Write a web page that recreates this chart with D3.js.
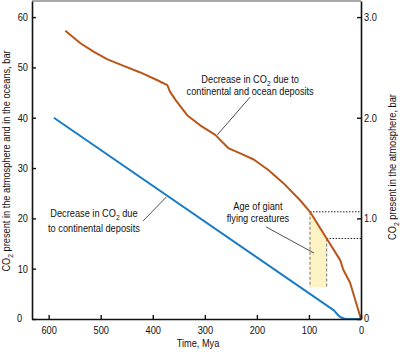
<!DOCTYPE html>
<html><head><meta charset="utf-8">
<script src="https://cdn.jsdelivr.net/npm/d3@7"></script>
<style>
html,body{margin:0;padding:0;background:#fff;}
svg text{font-family:"Liberation Sans",Arial,sans-serif;fill:#111;}
</style></head>
<body>
<svg id="c" width="400" height="352"></svg>
<script>
// ---- data ----
const xTicks = [600, 500, 400, 300, 200, 100, 0];
const leftTicks = [0, 10, 20, 30, 40, 50, 60];
const rightTicks = [0, 1, 2, 3];

const blueMya = [590, 52, 45, 40, 33, 27, 0];
const blueVal = [40, 1.7, 0.9, 0.4, 0.1, 0, 0];

const orangeMya = [568, 539, 513, 487, 456, 424, 392, 372, 367, 356, 334, 309, 280, 254, 232, 206, 178, 149, 117, 98, 66, 40, 34, 21, 0];
const orangeVal = [57.3, 54.8, 53.1, 51.6, 50.3, 49.0, 47.5, 46.5, 45.2, 43.5, 40.5, 38.5, 36.6, 33.9, 32.9, 31.7, 29.6, 27.0, 23.6, 21.3, 16.0, 11.7, 9.8, 7.2, 0];

const ageMya = [98, 66];
const ageLevel = [21.3, 16.0];
const ageBottom = 6.3;

const SX = 0.84; // horizontal condensing of the lettering
const svg = d3.select("#c");
const x = d3.scaleLinear().domain([632, 0]).range([32, 361]);
const y = d3.scaleLinear().domain([0, 63.2]).range([319, 1]);
const yR = d3.scaleLinear().domain([0, 3.16]).range([319, 1]);

const orange = "#b9561a", blue = "#1a7cc7";

// yellow band (age of giant flying creatures)
const bandPts = orangeMya.map((m, i) => [m, orangeVal[i]]).filter(p => p[0] <= ageMya[0] && p[0] >= ageMya[1]);
const area = d3.area().x(d => x(d[0])).y0(y(ageBottom)).y1(d => y(d[1]));
svg.append("path").datum(bandPts).attr("d", area).attr("fill", "#fdf2c4");

// dashed verticals and dotted horizontals
ageMya.forEach((m, i) => {
  svg.append("line").attr("x1", x(m)).attr("x2", x(m)).attr("y1", y(ageLevel[i])).attr("y2", y(ageBottom))
    .attr("stroke", "#888").attr("stroke-width", 1.2).attr("stroke-dasharray", "3,2");
  svg.append("line").attr("x1", x(m)).attr("x2", x(0)).attr("y1", y(ageLevel[i])).attr("y2", y(ageLevel[i]))
    .attr("stroke", "#222").attr("stroke-width", 1).attr("stroke-dasharray", "1.5,1.5");
});

// lines
const line = d3.line().x(d => x(d[0])).y(d => y(d[1])).curve(d3.curveLinear);
svg.append("path").datum(blueMya.map((m, i) => [m, blueVal[i]]))
  .attr("d", line).attr("fill", "none").attr("stroke", blue).attr("stroke-width", 2).attr("stroke-linejoin", "round");
svg.append("path").datum(orangeMya.map((m, i) => [m, orangeVal[i]]))
  .attr("d", line).attr("fill", "none").attr("stroke", orange).attr("stroke-width", 2).attr("stroke-linejoin", "round");

// axes
function styleAxis(g) {
  g.selectAll("text").style("font-size", "11px").style("font-family", "'Liberation Sans',Arial,sans-serif");
  g.select(".domain").attr("stroke", "#111").attr("stroke-width", 1.6);
  g.selectAll(".tick line").attr("stroke", "#111").attr("stroke-width", 1.4);
}
function condense(g) {
  g.selectAll(".tick text").each(function () {
    const t = d3.select(this);
    const bx = +t.attr("x") || 0, by = +t.attr("y") || 0;
    const extra = t.attr("transform") || "";
    t.attr("transform", `${extra} translate(${bx},${by}) scale(${SX},1) translate(${-bx},${-by})`);
  });
}
const gL = svg.append("g").attr("transform", `translate(${x(632)},0)`)
  .call(d3.axisLeft(y).tickValues(leftTicks).tickSizeInner(-4).tickSizeOuter(0).tickPadding(4).tickFormat(d3.format("d")));
styleAxis(gL);
gL.selectAll(".tick").filter(d => d === 0).select("text").attr("transform", "translate(-6,-1)");
condense(gL);

const gR = svg.append("g").attr("transform", `translate(${x(0)},0)`)
  .call(d3.axisRight(yR).tickValues(rightTicks).tickSizeInner(-4).tickSizeOuter(0).tickPadding(3).tickFormat(d => d === 0 ? "0" : d.toFixed(1)));
styleAxis(gR);
gR.selectAll(".tick").filter(d => d === 0).select("text").attr("transform", "translate(0,-1)");
condense(gR);

const gB = svg.append("g").attr("transform", `translate(0,${y(0)})`)
  .call(d3.axisBottom(x).tickValues(xTicks).tickSizeInner(-4).tickSizeOuter(0).tickPadding(7).tickFormat(d3.format("d")));
styleAxis(gB);
condense(gB);

// top frame
svg.append("line").attr("x1", x(632)).attr("x2", x(0)).attr("y1", y(63.2)).attr("y2", y(63.2)).attr("stroke", "#555").attr("stroke-width", 1.2);

// text helpers
function co2Text(sel, before, after) {
  sel.append("tspan").text(before + "CO");
  sel.append("tspan").text("2").attr("font-size", "8px").attr("dy", 3);
  sel.append("tspan").text(after).attr("dy", -3);
}
function place(px, py, rot) {
  return svg.append("g").attr("transform", `translate(${px},${py}) rotate(${rot || 0}) scale(${SX},1)`)
    .append("text").attr("text-anchor", "middle").style("font-size", "11px");
}

// axis titles
co2Text(place(10, 161, -90), "", " present in the atmosphere and in the oceans, bar");
co2Text(place(396, 167, -90), "", " present in the atmosphere, bar");
place(198, 347).text("Time, Mya");

// annotations
function label(cx, lines) {
  lines.forEach(l => {
    const t = place(x(cx), y(l.v));
    if (l.co2) co2Text(t, l.pre, l.post); else t.text(l.text);
  });
}
function pointer(a, b) {
  svg.append("line").attr("x1", x(a[0])).attr("y1", y(a[1])).attr("x2", x(b[0])).attr("y2", y(b[1]))
    .attr("stroke", "#222").attr("stroke-width", 0.8);
}
label(213, [{v: 46.9, co2: true, pre: "Decrease in ", post: " due to"}, {v: 44.5, text: "continental and ocean deposits"}]);
pointer([276, 36.6], [213, 44.1]);
label(513, [{v: 20.3, co2: true, pre: "Decrease in ", post: " due"}, {v: 17.3, text: "to continental deposits"}]);
pointer([418.6, 19.5], [374.4, 24.2]);
label(198, [{v: 21.7, text: "Age of giant"}, {v: 19.3, text: "flying creatures"}]);
pointer([182.4, 18.3], [90.2, 13.1]);
</script>
</body></html>
